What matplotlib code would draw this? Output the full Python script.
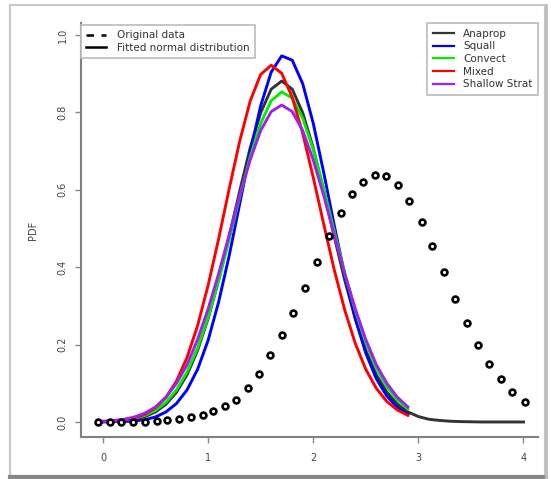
import matplotlib
matplotlib.use('Agg')
import matplotlib.pyplot as plt
from matplotlib.lines import Line2D
from matplotlib.patches import Rectangle

plt.rcParams['font.family'] = ['DejaVu Sans']

# observed data (circles)
obs_x = [-0.05, 0.07, 0.17, 0.29, 0.40, 0.51, 0.61, 0.72, 0.84, 0.95,
         1.05, 1.16, 1.27, 1.38, 1.48, 1.59, 1.70, 1.81, 1.92, 2.04,
         2.15, 2.26, 2.37, 2.47, 2.59, 2.69, 2.81, 2.91, 3.03, 3.13,
         3.24, 3.35, 3.46, 3.57, 3.67, 3.79, 3.89, 4.01]
obs_y = [0.000, 0.000, 0.000, 0.000, 0.001, 0.003, 0.004, 0.008, 0.014, 0.019,
         0.028, 0.041, 0.058, 0.088, 0.124, 0.173, 0.225, 0.282, 0.346, 0.413,
         0.481, 0.540, 0.589, 0.620, 0.638, 0.636, 0.612, 0.571, 0.517, 0.455,
         0.388, 0.318, 0.256, 0.199, 0.150, 0.111, 0.078, 0.052]

# fitted curves
fit_x = [0.0, 0.1, 0.2, 0.3, 0.4, 0.5, 0.6, 0.7, 0.8, 0.9,
         1.0, 1.1, 1.2, 1.3, 1.4, 1.5, 1.6, 1.7, 1.8, 1.9,
         2.0, 2.1, 2.2, 2.3, 2.4, 2.5, 2.6, 2.7, 2.8, 2.9]
anaprop_x = fit_x + [3.0, 3.1, 3.2, 3.3, 3.4, 3.6, 3.8, 4.0]
anaprop = [0.001, 0.002, 0.004, 0.007, 0.014, 0.026, 0.046, 0.077, 0.122, 0.185,
           0.267, 0.366, 0.479, 0.596, 0.708, 0.799, 0.860, 0.881, 0.860, 0.799,
           0.708, 0.596, 0.479, 0.366, 0.267, 0.185, 0.122, 0.077, 0.046, 0.026,
           0.014, 0.007, 0.004, 0.002, 0.001, 0.0, 0.0, 0.0]
squall = [0.000, 0.001, 0.001, 0.003, 0.006, 0.013, 0.026, 0.048, 0.083, 0.136,
          0.211, 0.310, 0.429, 0.563, 0.697, 0.817, 0.904, 0.946, 0.935, 0.874,
          0.772, 0.644, 0.508, 0.379, 0.267, 0.178, 0.112, 0.067, 0.038, 0.020]
convect = [0.001, 0.002, 0.005, 0.009, 0.017, 0.030, 0.051, 0.083, 0.129, 0.191,
           0.270, 0.365, 0.471, 0.581, 0.685, 0.771, 0.830, 0.853, 0.837, 0.785,
           0.704, 0.603, 0.493, 0.385, 0.288, 0.205, 0.140, 0.091, 0.057, 0.034]
mixed = [0.001, 0.002, 0.005, 0.010, 0.020, 0.037, 0.064, 0.106, 0.167, 0.249,
         0.353, 0.473, 0.602, 0.725, 0.829, 0.898, 0.922, 0.901, 0.839, 0.746,
         0.632, 0.511, 0.393, 0.289, 0.203, 0.136, 0.087, 0.053, 0.031, 0.017]
shallow = [0.002, 0.004, 0.007, 0.013, 0.023, 0.039, 0.064, 0.100, 0.148, 0.213,
           0.292, 0.383, 0.483, 0.585, 0.677, 0.753, 0.802, 0.819, 0.802, 0.753,
           0.677, 0.585, 0.483, 0.383, 0.292, 0.213, 0.148, 0.100, 0.064, 0.039]

names = ['Anaprop', 'Squall', 'Convect', 'Mixed', 'Shallow Strat']
colors = ['#333333', '#0000ff', '#00ee00', '#ff0000', '#a020f0']
xticks = [0, 1, 2, 3, 4]
yticks = [0.0, 0.2, 0.4, 0.6, 0.8, 1.0]

fig = plt.figure(figsize=(5.51, 4.79), dpi=100)
ax = fig.add_axes([81 / 551, 42 / 479, 457 / 551, 414 / 479])

# outer shadow frame
fig.patches.append(Rectangle((10 / 551, 3 / 479), 535 / 551, 471 / 479,
                             transform=fig.transFigure, fill=False,
                             edgecolor='#c8c8c8', lw=1.5))
fig.add_artist(Line2D([10 / 551, 546 / 551], [2.5 / 479, 2.5 / 479],
                      transform=fig.transFigure, color='#888888', lw=3))
fig.add_artist(Line2D([546 / 551, 546 / 551], [2.5 / 479, 474 / 479],
                      transform=fig.transFigure, color='#bbbbbb', lw=2))

ax.plot(obs_x, obs_y, ls='none', marker='o', ms=4.2, mfc='white',
        mec='black', mew=1.9, zorder=5)

series = [anaprop, squall, convect, mixed, shallow]
handles = []
for i, (name, ys) in enumerate(zip(names, series)):
    xs = anaprop_x if i == 0 else fit_x
    ln, = ax.plot(xs, ys, color=colors[i], lw=2.1, label=name)
    handles.append(ln)

ax.set_xlim(-0.209, 4.138)
ax.set_ylim(-0.0388, 1.031)
ax.set_xticks(xticks)
ax.set_xticklabels([str(t) for t in xticks])
ax.set_yticks(yticks)
ax.set_yticklabels(['%.1f' % t for t in yticks])

for s in ['top', 'right']:
    ax.spines[s].set_visible(False)
for s in ['left', 'bottom']:
    ax.spines[s].set_color('#808080')
    ax.spines[s].set_linewidth(1.5)
ax.tick_params(axis='both', direction='out', length=4.5, width=1,
               color='#888888', labelsize=7, labelcolor='#444444')
ax.tick_params(axis='x', pad=7)
ax.tick_params(axis='y', pad=5, labelrotation=90)
for lbl in ax.get_yticklabels():
    lbl.set_va('center')

ax.set_ylabel('PDF', fontsize=7, color='#444444')
ax.yaxis.set_label_coords(-0.094, 0.5)

leg1 = ax.legend([Line2D([], [], color='black', ls=(0, (3, 3)), lw=1.8),
                  Line2D([], [], color='black', lw=1.8)],
                 ['Original data', 'Fitted normal distribution'],
                 loc='upper left', bbox_to_anchor=(0, 0.995), borderaxespad=0,
                 fontsize=7.5, frameon=True, fancybox=False, edgecolor='#bbbbbb',
                 framealpha=1, handlelength=1.9, handletextpad=1.1,
                 labelspacing=0.22, borderpad=0.5)
leg1.get_frame().set_linewidth(1.2)
for t in leg1.get_texts():
    t.set_color('#333333')
ax.add_artist(leg1)

leg2 = ax.legend(handles=handles, loc='upper right', bbox_to_anchor=(1, 1),
                 borderaxespad=0, fontsize=7.5, frameon=True, fancybox=False,
                 edgecolor='#bbbbbb', framealpha=1, handlelength=2.0,
                 handletextpad=0.9, labelspacing=0.25, borderpad=0.55)
leg2.get_frame().set_linewidth(1.2)
for ln in leg2.get_lines():
    ln.set_linewidth(1.6)
for t in leg2.get_texts():
    t.set_color('#333333')

fig.savefig('out.png', dpi=100)
